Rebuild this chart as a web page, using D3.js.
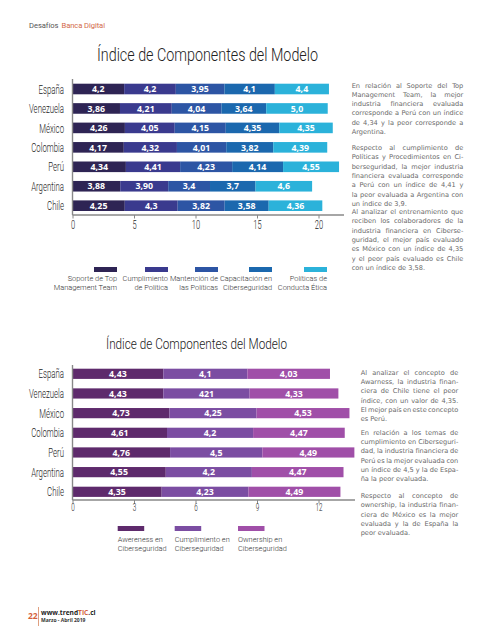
<!DOCTYPE html>
<html><head><meta charset="utf-8">
<script src="https://cdn.jsdelivr.net/npm/d3@7"></script>
<style>html,body{margin:0;padding:0;background:#fff}</style>
</head><body><script>
// ---------- DATA ----------
const countries = ["España","Venezuela","México","Colombia","Perú","Argentina","Chile"];

// Top chart series
const topNames = [["Soporte de Top","Management Team"],["Cumplimiento","de Política"],["Mantención de","las Políticas"],["Capacitación en","Ciberseguridad"],["Políticas de","Conducta Ética"]];
const soporte      = [4.2, 3.86, 4.26, 4.17, 4.34, 3.88, 4.25];
const cumplimiento = [4.2, 4.21, 4.05, 4.32, 4.41, 3.90, 4.3];
const mantencion   = [3.95, 4.04, 4.15, 4.01, 4.23, 3.4, 3.82];
const capacitacion = [4.1, 3.64, 4.35, 3.82, 4.14, 3.7, 3.58];
const politicas    = [4.4, 5.0, 4.35, 4.39, 4.55, 4.6, 4.36];
const soporteLbl      = ["4,2","3,86","4,26","4,17","4,34","3,88","4,25"];
const cumplimientoLbl = ["4,2","4,21","4,05","4,32","4,41","3,90","4,3"];
const mantencionLbl   = ["3,95","4,04","4,15","4,01","4,23","3,4","3,82"];
const capacitacionLbl = ["4,1","3,64","4,35","3,82","4,14","3,7","3,58"];
const politicasLbl    = ["4,4","5,0","4,35","4,39","4,55","4,6","4,36"];
const topTicks = [0,5,10,15,20];

// Bottom chart series
const botNames = [["Awereness en","Ciberseguridad"],["Cumplimiento en","Ciberseguridad"],["Ownership en","Ciberseguridad"]];
const awareness   = [4.43, 4.43, 4.73, 4.61, 4.76, 4.55, 4.35];
const cumpCiber   = [4.1, 4.21, 4.25, 4.2, 4.5, 4.2, 4.23];
const ownership   = [4.03, 4.33, 4.53, 4.47, 4.49, 4.47, 4.49];
const awarenessLbl = ["4,43","4,43","4,73","4,61","4,76","4,55","4,35"];
const cumpCiberLbl = ["4,1","421","4,25","4,2","4,5","4,2","4,23"];
const ownershipLbl = ["4,03","4,33","4,53","4,47","4,49","4,47","4,49"];
const botTicks = [0,3,6,9,12];

const topColors = ["#2e2454","#3a3a8e","#2d55a4","#1b68ae","#2bb2da"];
const botColors = ["#5e2a6c","#7b4da2","#a04fa8"];

// ---------- DRAW ----------
const W = 495, H = 640;
const svg = d3.select("body").append("svg").attr("width", W).attr("height", H);
const COND = "Roboto";

// horizontally condense text via textLength
function condense(sel, sx) {
  sel.each(function () {
    const len = this.getComputedTextLength();
    d3.select(this).attr("textLength", len * sx).attr("lengthAdjust", "spacingAndGlyphs");
  });
  return sel;
}

// header
svg.append("text").attr("x", 29).attr("y", 28)
  .attr("font-family", COND).attr("font-weight", 400).attr("font-size", 7.6).attr("fill", "#555")
  .attr("textLength", 29.5).attr("lengthAdjust", "spacing").text("Desafíos");
svg.append("text").attr("x", 61.5).attr("y", 28)
  .attr("font-family", COND).attr("font-weight", 400).attr("font-size", 7.6).attr("fill", "#d2694a")
  .attr("textLength", 43.5).attr("lengthAdjust", "spacing").text("Banca Digital");

function chart(cfg) {
  const g = svg.append("g");
  // title
  g.append("text").attr("x", cfg.titleX).attr("y", cfg.titleY)
    .attr("font-family", COND).attr("font-weight", 300).attr("font-size", cfg.titleSize)
    .attr("fill", "#222").attr("textLength", cfg.titleW).attr("lengthAdjust", "spacingAndGlyphs")
    .text("Índice de Componentes del Modelo");

  const x = d3.scaleLinear().domain(cfg.domain).range([72.5, 318.5]);
  const y = d3.scalePoint().domain(countries).range(cfg.yRange);

  const table = countries.map((c, i) => {
    const o = {country: c};
    cfg.series.forEach((s, k) => { o["s" + k] = s[i]; });
    return o;
  });
  const keys = cfg.series.map((s, k) => "s" + k);
  const stacked = d3.stack().keys(keys)(table);

  stacked.forEach((layer, k) => {
    const lg = g.append("g");
    lg.selectAll("rect").data(layer).enter().append("rect")
      .attr("x", d => x(d[0]))
      .attr("y", d => y(d.data.country) - cfg.barH / 2)
      .attr("width", d => x(d[1]) - x(d[0]))
      .attr("height", cfg.barH)
      .attr("fill", cfg.colors[k]);
    lg.selectAll("text").data(layer).enter().append("text")
      .attr("x", d => (x(d[0]) + x(d[1])) / 2)
      .attr("y", d => y(d.data.country) + 3.2)
      .attr("text-anchor", "middle")
      .attr("font-family", "'Open Sans', sans-serif").attr("font-weight", 700)
      .attr("font-size", 8.8).attr("fill", "#fff")
      .text((d, i) => cfg.labels[k][i]);
  });

  // y axis (labels)
  const ya = g.append("g").attr("transform", `translate(72.5,0)`)
    .call(d3.axisLeft(y).tickSize(0).tickPadding(8.5));
  ya.select(".domain").remove();
  ya.selectAll("text")
    .attr("font-family", COND).attr("font-weight", 300).attr("font-size", 13)
    .attr("fill", "#222");
  condense(ya.selectAll("text"), 0.6);
  g.append("line").attr("x1", 72.5).attr("x2", 72.5)
    .attr("y1", cfg.yTop).attr("y2", cfg.axisY).attr("stroke", "#888").attr("stroke-width", 1.4);

  // x axis
  const xa = g.append("g").attr("transform", `translate(0,${cfg.axisY})`)
    .call(d3.axisBottom(x).tickValues(cfg.ticks).tickSize(3.5).tickFormat(d3.format("d")));
  xa.select(".domain").attr("stroke", "#888").attr("stroke-width", 1.4)
    .attr("d", `M72.5,0H${cfg.axisEnd}`);
  xa.selectAll(".tick line").attr("stroke", "#888");
  xa.selectAll("text")
    .attr("font-family", COND).attr("font-weight", 300).attr("font-size", cfg.tickSize)
    .attr("fill", "#222").attr("dy", 0).attr("y", cfg.tickY);
  condense(xa.selectAll("text"), 0.6);

  // legend
  cfg.names.forEach((nm, k) => {
    const sx0 = cfg.legX[k];
    g.append("rect").attr("x", sx0).attr("y", cfg.legY).attr("width", cfg.swW).attr("height", 5)
      .attr("fill", cfg.colors[k]);
    const tx = cfg.legAlign === "end" ? sx0 + cfg.swW : sx0;
    nm.forEach((ln, j) => {
      g.append("text").attr("x", tx).attr("y", cfg.legTextY + j * cfg.legLH)
        .attr("text-anchor", cfg.legAlign)
        .attr("font-family", COND).attr("font-weight", 300)
        .attr("font-size", 7.4).attr("fill", "#333").text(ln);
    });
  });
}

chart({
  titleX: 97, titleY: 61, titleSize: 18, titleW: 221,
  domain: [0, 20], yRange: [89, 205.7], barH: 10.6, yTop: 79, axisY: 215, axisEnd: 344,
  ticks: topTicks, tickSize: 12.5, tickY: 13.5,
  series: [soporte, cumplimiento, mantencion, capacitacion, politicas],
  labels: [soporteLbl, cumplimientoLbl, mantencionLbl, capacitacionLbl, politicasLbl],
  colors: topColors, names: topNames,
  legX: [94, 145, 195, 249, 304], swW: 23, legY: 267, legAlign: "end", legTextY: 281, legLH: 9.3
});

chart({
  titleX: 106, titleY: 349, titleSize: 15, titleW: 181,
  domain: [0, 12], yRange: [373.8, 491.8], barH: 10.2, yTop: 365, axisY: 500, axisEnd: 355,
  ticks: botTicks, tickSize: 10.5, tickY: 10.5,
  series: [awareness, cumpCiber, ownership],
  labels: [awarenessLbl, cumpCiberLbl, ownershipLbl],
  colors: botColors, names: botNames,
  legX: [117.7, 174.7, 238], swW: 26.5, legY: 526, legAlign: "start", legTextY: 542.3, legLH: 8.6
});

// side texts (justified)
function para(g, lines, x0, x1, y0, lh) {
  lines.forEach((ln, i) => {
    const yy = y0 + i * lh;
    const words = ln.split(" ");
    const t = g.append("text").attr("y", yy);
    if (i === lines.length - 1 || words.length < 2) { t.attr("x", x0).text(ln); return; }
    const spans = words.map(w => t.append("tspan").text(w));
    const widths = spans.map(s => s.node().getComputedTextLength());
    const gap = (x1 - x0 - d3.sum(widths)) / (words.length - 1);
    let cx = x0;
    spans.forEach((s, j) => { s.attr("x", cx); cx += widths[j] + gap; });
  });
}
const tg = svg.append("g").attr("font-family", "'DejaVu Sans', Verdana, sans-serif")
  .attr("font-size", 6.6).attr("fill", "#6a6a6a");
const topParas = [
  ["En relación al Soporte del Top","Management Team, la mejor","industria financiera evaluada","corresponde a Perú con un índice","de 4,34 y la peor corresponde a","Argentina."],
  ["Respecto al cumplimiento de","Políticas y Procedimientos en Ci-","berseguridad, la mejor industria","financiera evaluada corresponde","a Perú con un índice de 4,41 y","la peor evaluada a Argentina con","un índice de 3,9."],
  ["Al analizar el entrenamiento que","reciben los colaboradores de la","industria financiera en Ciberse-","guridad, el mejor país evaluado","es México con un índice de 4,35","y el peor país evaluado es Chile","con un índice de 3,58."]
];
const botParas = [
  ["Al analizar el concepto de","Awarness, la industria finan-","ciera de Chile tiene el peor","índice, con un valor de 4,35.","El mejor país en este concepto","es Perú."],
  ["En relación a los temas de","cumplimiento en Ciberseguri-","dad, la industria financiera de","Perú es la mejor evaluada con","un índice de 4,5 y la de Espa-","ña la peor evaluada."],
  ["Respecto al concepto de","ownership, la industria finan-","ciera de México es la mejor","evaluada y la de España la","peor evaluada."]
];
[87.5, 150.2, 214.2].forEach((y0, i) => para(tg, topParas[i], 351.7, 463.3, y0, 9.27));
[374.8, 434.8, 498.2].forEach((y0, i) => para(tg, botParas[i], 360.7, 458.3, y0, 9.27));

// footer
svg.append("text").attr("x", 28).attr("y", 619).attr("font-family", "'Open Sans', sans-serif")
  .attr("font-weight", 700).attr("font-size", 8.5).attr("fill", "#d4603b").text("22");
svg.append("line").attr("x1", 38.5).attr("x2", 38.5).attr("y1", 607).attr("y2", 626)
  .attr("stroke", "#e0a080").attr("stroke-width", 1);
const ft = svg.append("text").attr("x", 41).attr("y", 615).attr("font-family", "'Open Sans', sans-serif")
  .attr("font-weight", 700).attr("font-size", 6.6).attr("fill", "#222");
ft.append("tspan").text("www.trend");
ft.append("tspan").attr("fill", "#d4603b").text("TIC");
ft.append("tspan").text(".cl");
svg.append("text").attr("x", 41).attr("y", 622).attr("font-family", "'Open Sans', sans-serif")
  .attr("font-weight", 700).attr("font-size", 5).attr("fill", "#333").text("Marzo - Abril 2019");
</script></body></html>
